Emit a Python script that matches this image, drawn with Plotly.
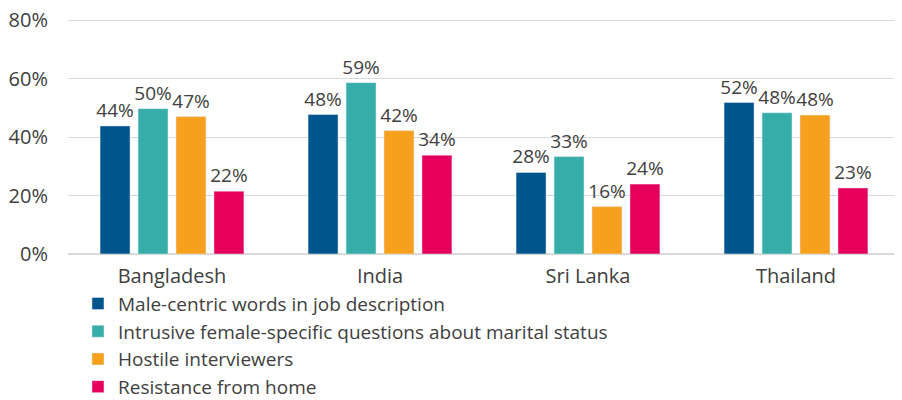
import plotly.graph_objects as go

countries = ["Bangladesh", "India", "Sri Lanka", "Thailand"]
series_names = [
    "Male-centric words in job description",
    "Intrusive female-specific questions about marital status",
    "Hostile interviewers",
    "Resistance from home",
]
male_centric = [43.8, 47.7, 27.9, 51.8]
intrusive = [49.7, 58.6, 33.3, 48.3]
hostile = [47.0, 42.2, 16.2, 47.5]
resistance = [21.5, 33.8, 23.9, 22.6]
y_ticks = [0, 20, 40, 60, 80]
y_tick_labels = ["0%", "20%", "40%", "60%", "80%"]
colors = ["#00558C", "#36ADA9", "#F7A01E", "#E6005C"]

fig = go.Figure()
for name, vals, col in zip(series_names, [male_centric, intrusive, hostile, resistance], colors):
    fig.add_trace(go.Bar(
        x=countries, y=vals, name=name, marker_color=col,
        text=[f"{v:.0f}%" for v in vals], textposition="outside",
        textfont=dict(size=19, color="#404040"), cliponaxis=False,
        constraintext="none",
    ))

# the page body adds an 8px margin, so the figure is a bit smaller than the window
fig.update_layout(
    barmode="group", bargap=0.27, bargroupgap=0.21,
    width=894, height=392,
    margin=dict(l=60, r=2, t=10, b=146, autoexpand=False),
    plot_bgcolor="white", paper_bgcolor="white",
    font=dict(family="Open Sans", size=20, color="#404040"),
    legend=dict(orientation="v", x=0.012, xanchor="left", y=-0.13, yanchor="top",
                bgcolor="rgba(0,0,0,0)",
                font=dict(size=19, color="#404040"), tracegroupgap=0, itemwidth=30),
)
fig.update_yaxes(range=[0, 80.7], tickmode="array", tickvals=y_ticks, ticktext=y_tick_labels,
                 showgrid=True, gridcolor="#D9D9D9", gridwidth=1,
                 zeroline=True, zerolinecolor="#D9D9D9", ticklabeloverflow="allow",
                 tickfont=dict(size=20, color="#404040"), ticks="", ticklabelstandoff=19)
fig.update_xaxes(showgrid=False, tickfont=dict(size=20, color="#404040"), ticklabelstandoff=8)

fig.write_html("out.html")
